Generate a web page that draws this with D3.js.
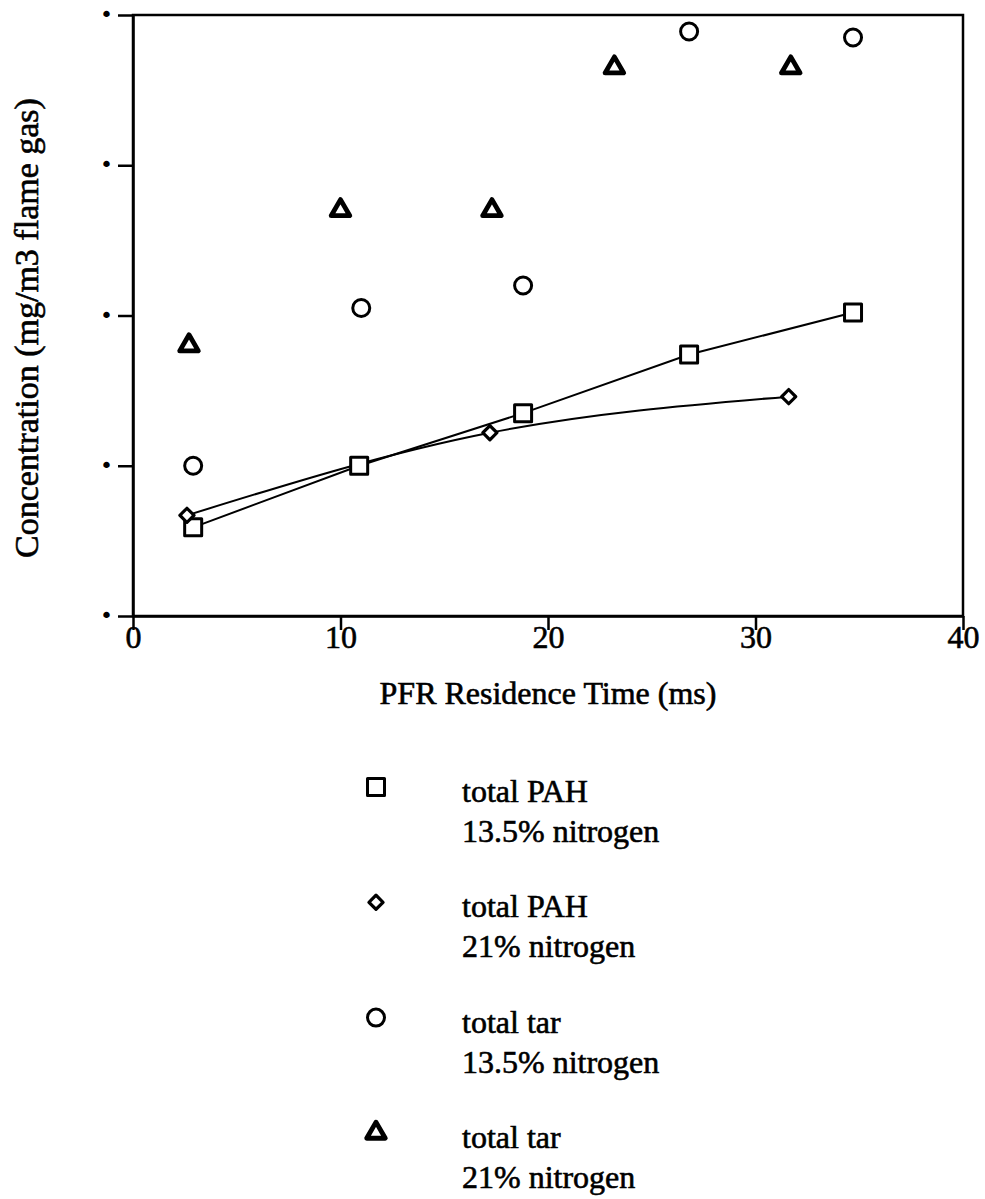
<!DOCTYPE html>
<html>
<head>
<meta charset="utf-8">
<script src="https://cdn.jsdelivr.net/npm/d3@7"></script>
<style>
  body { margin: 0; background: #fff; }
  svg { display: block; }
  text { font-family: "Liberation Serif", "Times New Roman", serif; fill: #000; }
  .heavy { stroke: #000; stroke-width: 0.6px; }
</style>
</head>
<body>
<svg id="chart" width="985" height="1199"></svg>
<script>
// PFR residence time (ms) and concentration (mg/m3 flame gas)
const pahN135X = [2.9, 10.9, 18.8, 26.8, 34.7];
const pahN135Y = [0.59, 1.0, 1.35, 1.74, 2.02];
const pahN21X = [2.6, 17.2, 31.6];
const pahN21Y = [0.67, 1.22, 1.46];
const tarN135X = [2.9, 11.0, 18.8, 26.8, 34.7];
const tarN135Y = [1.0, 2.05, 2.2, 3.89, 3.85];
const tarN21X = [2.7, 10.0, 17.3, 23.2, 31.7];
const tarN21Y = [1.8, 2.7, 2.7, 3.65, 3.65];

const xTicks = [0, 10, 20, 30, 40];
const yTicks = [0, 1, 2, 3, 4];
const yTickLabels = ["•", "•", "•", "•", "•"];

const legendLabels = [
  ["total PAH", "13.5% nitrogen"],
  ["total PAH", "21% nitrogen"],
  ["total tar", "13.5% nitrogen"],
  ["total tar", "21% nitrogen"]
];

const svg = d3.select("#chart");
const plotLeft = 133, plotRight = 963, plotTop = 15, plotBottom = 616;

const x = d3.scaleLinear().domain([0, 40]).range([plotLeft, plotRight]);
const y = d3.scaleLinear().domain([0, 4]).range([plotBottom, plotTop]);

// frame
svg.append("rect")
  .attr("x", plotLeft).attr("y", plotTop)
  .attr("width", plotRight - plotLeft).attr("height", plotBottom - plotTop)
  .attr("fill", "none").attr("stroke", "#000").attr("stroke-width", 2.5);

// x axis
const xAxis = svg.append("g")
  .attr("transform", `translate(0,${plotBottom})`)
  .call(d3.axisBottom(x).tickValues(xTicks).tickFormat(d3.format("d")).tickSize(14).tickSizeOuter(0));
xAxis.select(".domain").attr("stroke-width", 2.5);
xAxis.selectAll(".tick line").attr("stroke-width", 2.5);
xAxis.selectAll(".tick text")
  .attr("class", "heavy")
  .attr("y", 32).attr("dy", 0)
  .style("font-size", "32px").style("font-family", "Liberation Serif");

// y axis: tick marks with small dot labels
const yAxis = svg.append("g")
  .attr("transform", `translate(${plotLeft},0)`)
  .call(d3.axisLeft(y).tickValues(yTicks).tickFormat((d, i) => yTickLabels[i]).tickSize(15).tickSizeOuter(0));
yAxis.select(".domain").attr("stroke-width", 2.5);
yAxis.selectAll(".tick line").attr("stroke-width", 2.5);
yAxis.selectAll(".tick text")
  .attr("x", -20).attr("dy", "0.3em")
  .style("font-size", "22px").style("font-family", "DejaVu Sans");

// axis titles
svg.append("text")
  .attr("class", "heavy")
  .attr("x", 548).attr("y", 704)
  .attr("text-anchor", "middle")
  .style("font-size", "32px")
  .text("PFR Residence Time (ms)");

svg.append("text")
  .attr("class", "heavy")
  .attr("transform", `translate(38,328) rotate(-90)`)
  .attr("text-anchor", "middle")
  .style("font-size", "34px")
  .text("Concentration (mg/m3 flame gas)");

// lines through the PAH series
const straight = d3.line().x(d => x(d[0])).y(d => y(d[1]));
const smooth = d3.line().curve(d3.curveMonotoneX).x(d => x(d[0])).y(d => y(d[1]));
svg.append("path")
  .attr("d", straight(d3.zip(pahN135X, pahN135Y)))
  .attr("fill", "none").attr("stroke", "#000").attr("stroke-width", 2);
svg.append("path")
  .attr("d", smooth(d3.zip(pahN21X, pahN21Y)))
  .attr("fill", "none").attr("stroke", "#000").attr("stroke-width", 2);

// marker shapes
const shapes = {
  square: d3.symbol().type(d3.symbolSquare).size(289),
  diamond: d3.symbol().type(d3.symbolSquare).size(100),
  circle: d3.symbol().type(d3.symbolCircle).size(227),
  triangle: d3.symbol().type(d3.symbolTriangle).size(150)
};
const strokeW = { square: 3, diamond: 3.2, circle: 3, triangle: 4.8 };

function drawSeries(xs, ys, kind) {
  svg.append("g").selectAll("path")
    .data(d3.zip(xs, ys))
    .join("path")
    .attr("d", shapes[kind]())
    .attr("transform", d => `translate(${x(d[0])},${y(d[1])})` + (kind === "diamond" ? " rotate(45)" : ""))
    .attr("fill", "#fff")
    .attr("stroke", "#000")
    .attr("stroke-linejoin", "round")
    .attr("stroke-width", strokeW[kind]);
}

drawSeries(pahN135X, pahN135Y, "square");
drawSeries(pahN21X, pahN21Y, "diamond");
drawSeries(tarN135X, tarN135Y, "circle");
drawSeries(tarN21X, tarN21Y, "triangle");

// legend
const legendKinds = ["square", "diamond", "circle", "triangle"];
const legendTop = 787, legendStep = 115.3;
legendKinds.forEach((kind, i) => {
  const cy = legendTop + i * legendStep;
  svg.append("path")
    .attr("d", shapes[kind]())
    .attr("transform", `translate(376,${cy})` + (kind === "diamond" ? " rotate(45)" : ""))
    .attr("fill", "#fff").attr("stroke", "#000")
    .attr("stroke-linejoin", "round")
    .attr("stroke-width", strokeW[kind]);
  const t = svg.append("text").attr("class", "heavy")
    .attr("x", 462).attr("y", cy + 15).style("font-size", "32px");
  t.append("tspan").attr("x", 462).text(legendLabels[i][0]);
  t.append("tspan").attr("x", 462).attr("dy", 40).text(legendLabels[i][1]);
});
</script>
</body>
</html>
